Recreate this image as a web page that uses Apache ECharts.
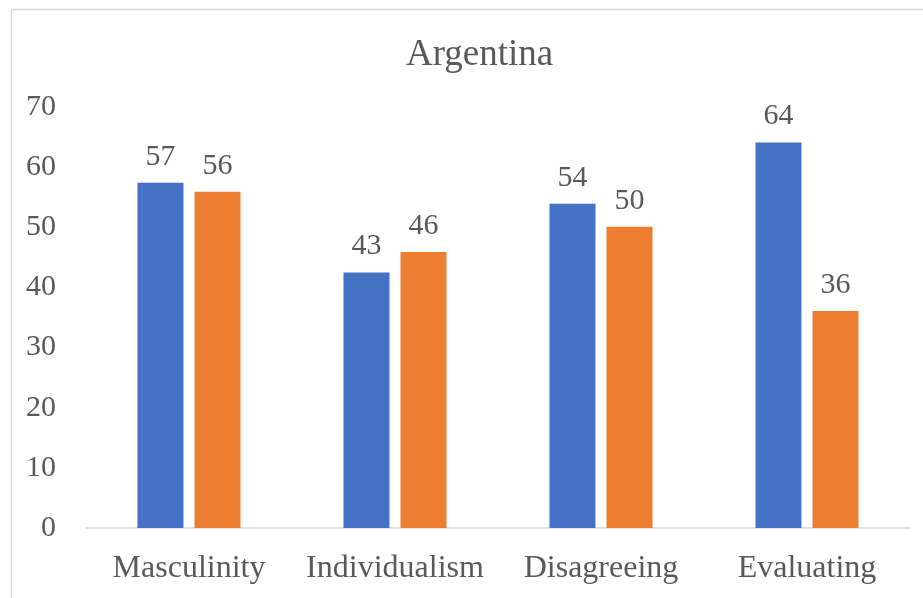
<!DOCTYPE html>
<html>
<head>
<meta charset="utf-8">
<script src="https://cdn.jsdelivr.net/npm/echarts@6/dist/echarts.min.js"></script>
<style>html,body{margin:0;padding:0;background:#fff}#c{width:923px;height:598px}</style>
</head>
<body>
<div id="c"></div>
<script>
const categories = ['Masculinity', 'Individualism', 'Disagreeing', 'Evaluating'];
const seriesA = [57.4, 42.5, 53.9, 64.1];
const seriesB = [55.9, 45.9, 50.1, 36.1];
const yMin = 0, yMax = 70, yStep = 10;
const titleText = 'Argentina';

const font = '"Liberation Serif", "Times New Roman", serif';
const textColor = '#595959';
const chart = echarts.init(document.getElementById('c'));
const labelOpt = {
  show: true, position: 'top', distance: 11,
  fontFamily: font, fontSize: 30, color: textColor,
  formatter: p => Math.round(p.value)
};
chart.setOption({
  animation: false,
  graphic: [{
    type: 'rect', left: 9, top: 7,
    shape: { width: 940, height: 620 },
    style: { fill: 'none', stroke: '#d9d9d9', lineWidth: 1.5 },
    silent: true
  }],
  title: {
    text: titleText, left: 401, top: 32,
    textStyle: { fontFamily: font, fontSize: 37, fontWeight: 'normal', color: textColor }
  },
  grid: { left: 86, right: 13, top: 107, bottom: 70 },
  xAxis: {
    type: 'category', data: categories,
    axisLine: { lineStyle: { color: '#d9d9d9', width: 1.5 } },
    axisTick: { show: false },
    axisLabel: { fontFamily: font, fontSize: 32, color: textColor, margin: 25, interval: 0 }
  },
  yAxis: {
    type: 'value', min: yMin, max: yMax, interval: yStep,
    splitLine: { show: false },
    axisLine: { show: false }, axisTick: { show: false },
    axisLabel: { fontFamily: font, fontSize: 30, color: textColor, margin: 30 }
  },
  series: [
    { type: 'bar', data: seriesA, barWidth: 46, barGap: '24%', itemStyle: { color: '#4472C4' }, label: labelOpt },
    { type: 'bar', data: seriesB, barWidth: 46, barGap: '24%', itemStyle: { color: '#ED7D31' }, label: labelOpt }
  ]
});
</script>
</body>
</html>
